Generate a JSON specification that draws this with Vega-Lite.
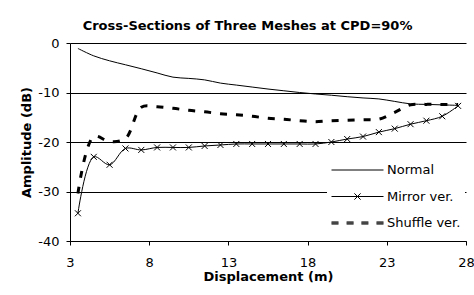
{
  "$schema": "https://vega.github.io/schema/vega-lite/v6.json",
  "width": 396,
  "height": 198,
  "autosize": {"type": "none"},
  "padding": {"left": 70, "top": 43, "right": 8, "bottom": 54},
  "background": "white",
  "title": {
    "text": "Cross-Sections of Three Meshes at CPD=90%",
    "font": "DejaVu Sans",
    "fontSize": 13,
    "fontWeight": "bold",
    "color": "black",
    "anchor": "middle",
    "frame": "bounds",
    "baseline": "alphabetic",
    "offset": -6
  },
  "config": {
    "view": {"stroke": null},
    "font": "DejaVu Sans",
    "axis": {
      "domainColor": "black",
      "domainWidth": 1,
      "tickColor": "black",
      "tickWidth": 1,
      "tickSize": 4,
      "labelColor": "black",
      "labelFont": "DejaVu Sans",
      "labelFontSize": 13,
      "titleColor": "black",
      "titleFont": "DejaVu Sans",
      "titleFontSize": 13,
      "titleFontWeight": "bold",
      "gridColor": "black",
      "gridOpacity": 1,
      "gridWidth": 1
    }
  },
  "data": {
    "values": [
      {"x": 3.5, "y": -1.1, "series": "Normal"},
      {"x": 4.5, "y": -2.6, "series": "Normal"},
      {"x": 5.5, "y": -3.6, "series": "Normal"},
      {"x": 6.5, "y": -4.4, "series": "Normal"},
      {"x": 7.5, "y": -5.2, "series": "Normal"},
      {"x": 8.5, "y": -6.05, "series": "Normal"},
      {"x": 9.5, "y": -6.9, "series": "Normal"},
      {"x": 10.5, "y": -7.15, "series": "Normal"},
      {"x": 11.5, "y": -7.45, "series": "Normal"},
      {"x": 12.5, "y": -8.1, "series": "Normal"},
      {"x": 13.5, "y": -8.5, "series": "Normal"},
      {"x": 14.5, "y": -8.9, "series": "Normal"},
      {"x": 15.5, "y": -9.3, "series": "Normal"},
      {"x": 16.5, "y": -9.65, "series": "Normal"},
      {"x": 17.5, "y": -10.0, "series": "Normal"},
      {"x": 18.5, "y": -10.3, "series": "Normal"},
      {"x": 19.5, "y": -10.55, "series": "Normal"},
      {"x": 20.5, "y": -10.85, "series": "Normal"},
      {"x": 21.5, "y": -11.1, "series": "Normal"},
      {"x": 22.5, "y": -11.3, "series": "Normal"},
      {"x": 23.5, "y": -11.8, "series": "Normal"},
      {"x": 24.5, "y": -12.3, "series": "Normal"},
      {"x": 25.5, "y": -12.4, "series": "Normal"},
      {"x": 26.5, "y": -12.5, "series": "Normal"},
      {"x": 27.5, "y": -12.6, "series": "Normal"},
      {"x": 3.5, "y": -34.4, "series": "Mirror ver."},
      {"x": 4.5, "y": -23.0, "series": "Mirror ver."},
      {"x": 5.5, "y": -24.6, "series": "Mirror ver."},
      {"x": 6.5, "y": -21.3, "series": "Mirror ver."},
      {"x": 7.5, "y": -21.6, "series": "Mirror ver."},
      {"x": 8.5, "y": -21.1, "series": "Mirror ver."},
      {"x": 9.5, "y": -21.1, "series": "Mirror ver."},
      {"x": 10.5, "y": -21.1, "series": "Mirror ver."},
      {"x": 11.5, "y": -20.8, "series": "Mirror ver."},
      {"x": 12.5, "y": -20.6, "series": "Mirror ver."},
      {"x": 13.5, "y": -20.4, "series": "Mirror ver."},
      {"x": 14.5, "y": -20.4, "series": "Mirror ver."},
      {"x": 15.5, "y": -20.4, "series": "Mirror ver."},
      {"x": 16.5, "y": -20.4, "series": "Mirror ver."},
      {"x": 17.5, "y": -20.4, "series": "Mirror ver."},
      {"x": 18.5, "y": -20.4, "series": "Mirror ver."},
      {"x": 19.5, "y": -20.0, "series": "Mirror ver."},
      {"x": 20.5, "y": -19.4, "series": "Mirror ver."},
      {"x": 21.5, "y": -18.9, "series": "Mirror ver."},
      {"x": 22.5, "y": -18.0, "series": "Mirror ver."},
      {"x": 23.5, "y": -17.3, "series": "Mirror ver."},
      {"x": 24.5, "y": -16.4, "series": "Mirror ver."},
      {"x": 25.5, "y": -15.7, "series": "Mirror ver."},
      {"x": 26.5, "y": -14.8, "series": "Mirror ver."},
      {"x": 27.5, "y": -12.7, "series": "Mirror ver."},
      {"x": 3.5, "y": -30.4, "series": "Shuffle ver."},
      {"x": 4.5, "y": -18.9, "series": "Shuffle ver."},
      {"x": 5.5, "y": -19.9, "series": "Shuffle ver."},
      {"x": 6.5, "y": -19.3, "series": "Shuffle ver."},
      {"x": 7.5, "y": -13.0, "series": "Shuffle ver."},
      {"x": 8.5, "y": -12.9, "series": "Shuffle ver."},
      {"x": 9.5, "y": -13.2, "series": "Shuffle ver."},
      {"x": 10.5, "y": -13.6, "series": "Shuffle ver."},
      {"x": 11.5, "y": -13.9, "series": "Shuffle ver."},
      {"x": 12.5, "y": -14.3, "series": "Shuffle ver."},
      {"x": 13.5, "y": -14.5, "series": "Shuffle ver."},
      {"x": 14.5, "y": -14.8, "series": "Shuffle ver."},
      {"x": 15.5, "y": -15.2, "series": "Shuffle ver."},
      {"x": 16.5, "y": -15.4, "series": "Shuffle ver."},
      {"x": 17.5, "y": -15.7, "series": "Shuffle ver."},
      {"x": 18.5, "y": -15.9, "series": "Shuffle ver."},
      {"x": 19.5, "y": -15.7, "series": "Shuffle ver."},
      {"x": 20.5, "y": -15.6, "series": "Shuffle ver."},
      {"x": 21.5, "y": -15.5, "series": "Shuffle ver."},
      {"x": 22.5, "y": -15.4, "series": "Shuffle ver."},
      {"x": 23.5, "y": -14.0, "series": "Shuffle ver."},
      {"x": 24.5, "y": -12.5, "series": "Shuffle ver."},
      {"x": 25.5, "y": -12.4, "series": "Shuffle ver."},
      {"x": 26.5, "y": -12.4, "series": "Shuffle ver."},
      {"x": 27.5, "y": -12.4, "series": "Shuffle ver."}
    ]
  },
  "encoding": {
    "x": {
      "field": "x",
      "type": "quantitative",
      "scale": {"domain": [3, 28], "nice": false, "zero": false},
      "axis": {
        "values": [3, 8, 13, 18, 23, 28],
        "title": "Displacement (m)",
        "grid": false,
        "labelFlush": false,
        "labelPadding": 11,
        "titlePadding": 1
      }
    },
    "y": {
      "field": "y",
      "type": "quantitative",
      "scale": {"domain": [-40, 0], "nice": false, "zero": false},
      "axis": {
        "values": [-40, -30, -20, -10, 0],
        "labelExpr": "datum.value == 0 ? '0' : '-' + abs(datum.value)",
        "title": "Amplitude (dB)",
        "grid": true,
        "labelPadding": 7,
        "titlePadding": 4
      }
    }
  },
  "layer": [
    {
      "transform": [{"filter": "datum.series !== 'Shuffle ver.'"}],
      "mark": {"type": "line", "color": "black", "strokeWidth": 1, "interpolate": "catmull-rom"},
      "encoding": {"detail": {"field": "series", "type": "nominal"}}
    },
    {
      "transform": [{"filter": "datum.series === 'Shuffle ver.'"}],
      "mark": {"type": "line", "color": "black", "strokeWidth": 3, "strokeDash": [7, 9], "strokeCap": "butt", "interpolate": "catmull-rom"},
      "encoding": {}
    },
    {
      "transform": [{"filter": "datum.series === 'Mirror ver.'"}],
      "mark": {"type": "point", "shape": "M-1,-1L1,1M-1,1L1,-1", "size": 36, "color": "black", "filled": false, "strokeWidth": 1, "opacity": 1},
      "encoding": {}
    },
    {
      "mark": {"type": "point", "filled": false, "color": "black", "strokeWidth": 1, "opacity": 0},
      "encoding": {
        "shape": {
          "field": "series",
          "type": "nominal",
          "scale": {
            "domain": ["Normal", "Mirror ver.", "Shuffle ver."],
            "range": [
              "M-1,0H1",
              "M-1,0H1M-0.12,-0.12L0.12,0.12M-0.12,0.12L0.12,-0.12",
              "M-1,-0.04H-0.73M-1,0H-0.73M-1,0.04H-0.73M-0.42,-0.04H-0.15M-0.42,0H-0.15M-0.42,0.04H-0.15M0.15,-0.04H0.42M0.15,0H0.42M0.15,0.04H0.42M0.73,-0.04H1M0.73,0H1M0.73,0.04H1"
            ]
          },
          "legend": {
            "title": null,
            "orient": "none",
            "legendX": 257,
            "legendY": 116,
            "padding": 4,
            "fillColor": "white",
            "symbolSize": 2704,
            "clipHeight": 14,
            "symbolOpacity": 1,
            "symbolStrokeWidth": 1,
            "symbolStrokeColor": "black",
            "labelFont": "DejaVu Sans",
            "labelFontSize": 13,
            "labelColor": "black",
            "labelOffset": 3,
            "rowPadding": 12.5
          }
        }
      }
    }
  ]
}
